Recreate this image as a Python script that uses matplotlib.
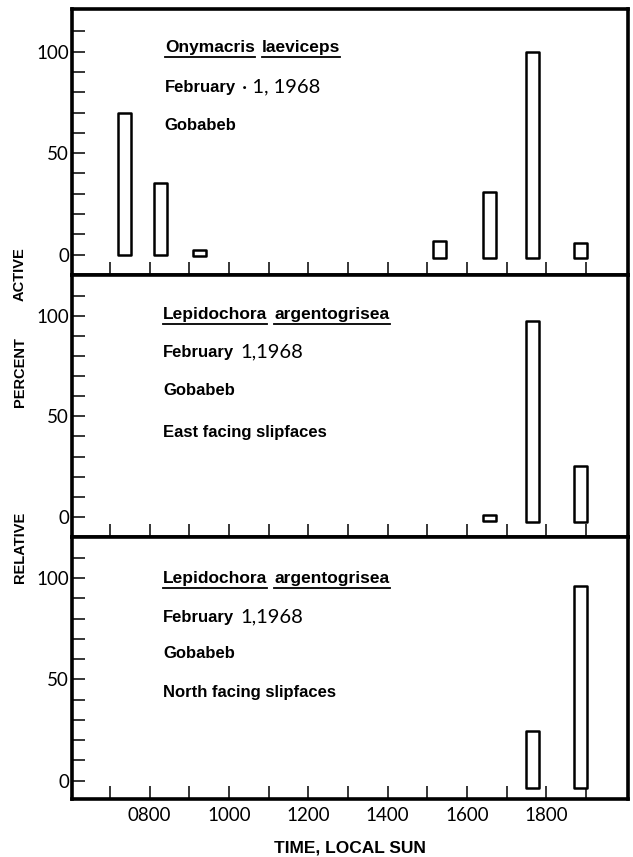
import matplotlib
matplotlib.use("Agg")
import matplotlib.pyplot as plt
from matplotlib.lines import Line2D
import numpy as np

# ---------------- data ----------------
# times in decimal hours (local sun time), bar top and bottom in percent
top_times = [7.37, 8.27, 9.26, 15.30, 16.56, 17.66, 18.86]
top_values = [70, 35.5, 2.5, 6.5, 31, 100, 6]
top_bases = [0, 0, -0.5, -1.5, -1.5, -1.5, -1.5]

mid_times = [16.56, 17.65, 18.86]
mid_values = [1, 97.5, 25.5]
mid_bases = [-2, -2.5, -2.5]

bot_times = [17.65, 18.86]
bot_values = [24.5, 96]
bot_bases = [-3.5, -3.5]

species = [["Onymacris", "laeviceps"],
           ["Lepidochora", "argentogrisea"],
           ["Lepidochora", "argentogrisea"]]
date_words = ["February", "February", "February"]
date_nums = ["\u00b7 1, 1968", "1,1968", "1,1968"]
locations = ["Gobabeb", "Gobabeb", "Gobabeb"]
slopes = [None, "East facing slipfaces", "North facing slipfaces"]

x_tick_hours = list(range(7, 20))
x_label_hours = [8, 10, 12, 14, 16, 18]
y_ticks = list(range(0, 111, 10))
y_labeled = [0, 50, 100]

# ---------------- style ----------------
BOLD = dict(family="Liberation Sans", weight="bold")
LIGHT = dict(family="Lato", weight="normal")

W, H = 633, 857
fig = plt.figure(figsize=(W / 100, H / 100), dpi=100)

left = 72 / W
right = 628 / W
top_px, b1, b2, bot_px = 9, 275, 537, 799
panel_px = [(top_px, b1), (b1, b2), (b2, bot_px)]
ylims = [(-10, 121), (-10, 120.3), (-9, 120.2)]
xlim = (6.04, 20.06)

axes = []
for (t, b) in panel_px:
    ax = fig.add_axes([left, 1 - b / H, right - left, (b - t) / H])
    axes.append(ax)

data = [(top_times, top_values, top_bases),
        (mid_times, mid_values, mid_bases),
        (bot_times, bot_values, bot_bases)]

for i, ax in enumerate(axes):
    times, vals, bases = data[i]
    heights = np.array(vals) - np.array(bases)
    ax.bar(times, heights, bottom=bases, width=0.33, facecolor="white",
           edgecolor="black", linewidth=1.8, joinstyle="round", zorder=3)
    ax.set_xlim(*xlim)
    ax.set_ylim(*ylims[i])
    for s in ax.spines.values():
        s.set_linewidth(2.6)
        s.set_color("black")
    ax.set_xticks(x_tick_hours)
    ax.set_yticks(y_ticks)
    ax.set_yticklabels([str(v) if v in y_labeled else "" for v in y_ticks])
    ax.tick_params(axis="y", direction="in", length=9, width=1.1, pad=2,
                   labelsize=13.5, left=True, right=False, labelcolor="black")
    ax.tick_params(axis="x", direction="in", length=9.5, width=1.1, pad=6,
                   labelsize=13.5, bottom=True, top=False, labelcolor="black")
    for lab in ax.get_yticklabels():
        lab.set_fontfamily(LIGHT["family"])
        lab.set_fontweight(LIGHT["weight"])
    if i < 2:
        ax.set_xticklabels([])
    else:
        ax.set_xticklabels(["%02d00" % h if h in x_label_hours else ""
                            for h in x_tick_hours])
        for lab in ax.get_xticklabels():
            lab.set_fontfamily(LIGHT["family"])
            lab.set_fontweight(LIGHT["weight"])

# text blocks (axes fraction positions)
text_x = [0.167, 0.164, 0.164]
line_y = [[0.838, 0.688, 0.545, None],
          [0.832, 0.687, 0.542, 0.382],
          [0.824, 0.676, 0.538, 0.389]]

word_texts = []
for i, ax in enumerate(axes):
    x0 = text_x[i]
    ys = line_y[i]
    w1 = ax.text(x0, ys[0], species[i][0], transform=ax.transAxes,
                 fontsize=12.5, va="baseline", ha="left", **BOLD)
    w2 = ax.annotate(species[i][1], xy=(1, 0), xycoords=w1,
                     xytext=(5, 0), textcoords="offset points",
                     fontsize=12.5, va="bottom", ha="left", **BOLD)
    word_texts.append((ax, w1, w2))
    f = ax.text(x0, ys[1], date_words[i], transform=ax.transAxes,
                fontsize=12, va="baseline", ha="left", **BOLD)
    ax.annotate(date_nums[i], xy=(1, 0), xycoords=f,
                xytext=(4, 0), textcoords="offset points",
                fontsize=14.5, va="bottom", ha="left", color="black", **LIGHT)
    ax.text(x0, ys[2], locations[i], transform=ax.transAxes,
            fontsize=12, va="baseline", ha="left", **BOLD)
    if slopes[i]:
        ax.text(x0, ys[3], slopes[i], transform=ax.transAxes,
                fontsize=12, va="baseline", ha="left", **BOLD)

# underline species names
fig.canvas.draw()
renderer = fig.canvas.get_renderer()
inv = fig.transFigure.inverted()
for ax, w1, w2 in word_texts:
    base_disp = ax.transAxes.transform(w1.get_position())[1]
    for w in (w1, w2):
        bb = w.get_window_extent(renderer)
        y = base_disp - 4.5
        (fx0, fy), (fx1, _) = inv.transform([(bb.x0, y), (bb.x1, y)])
        fig.add_artist(Line2D([fx0, fx1], [fy, fy], transform=fig.transFigure,
                              color="black", linewidth=1.3))

# axis labels
ylab_y = [274, 372, 547]
ylab_txt = ["ACTIVE", "PERCENT", "RELATIVE"]
for txt, yp in zip(ylab_txt, ylab_y):
    fig.text(20 / W, 1 - yp / H, txt, rotation=90, ha="center", va="center",
             fontsize=10.5, **BOLD)

fig.text(350 / W, 1 - 848 / H, "TIME, LOCAL SUN", ha="center", va="center",
         fontsize=12.5, **BOLD)

fig.savefig("out.png", dpi=100)
